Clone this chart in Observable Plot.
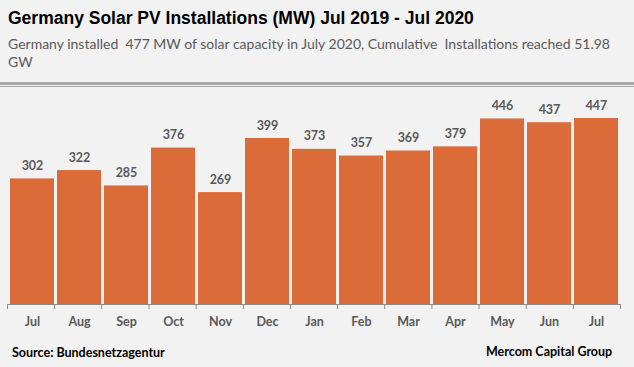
<!DOCTYPE html>
<html>
<head>
<meta charset="utf-8">
<script src="https://cdn.jsdelivr.net/npm/d3@7"></script>
<script src="https://cdn.jsdelivr.net/npm/@observablehq/plot@0.6"></script>
<style>
  body { margin: 0; background: #f2f2f2; width: 634px; height: 367px; position: relative; overflow: hidden; }
  #title { position: absolute; left: 8px; top: 8px; font: bold 17.5px "Liberation Sans", Arial, sans-serif; color: #000; white-space: nowrap; }
  #subtitle { position: absolute; left: 8px; top: 35px; font: 14px Lato, "Open Sans", sans-serif; color: #595959; line-height: 18px; white-space: nowrap; }
  #rule1 { position: absolute; left: 0; top: 82px; width: 634px; height: 3px; background: #a6a6a6; }
  #rule2 { position: absolute; left: 0; top: 86px; width: 634px; height: 1px; background: #a6a6a6; }
  #chart { position: absolute; left: 0; top: 87px; width: 634px; }
  #source { position: absolute; left: 12px; top: 345px; font: bold 12.5px Lato, "Open Sans", sans-serif; color: #000; }
  #credit { position: absolute; left: 486px; top: 344px; font: bold 12.5px Lato, "Open Sans", sans-serif; color: #000; }
</style>
</head>
<body>
<div id="title">Germany Solar PV Installations (MW) Jul 2019 - Jul 2020</div>
<div id="subtitle">Germany installed&nbsp; 477 MW of solar capacity in July 2020, Cumulative&nbsp; Installations reached 51.98<br>GW</div>
<div id="rule1"></div>
<div id="rule2"></div>
<div id="chart"></div>
<div id="source">Source: Bundesnetzagentur</div>
<div id="credit">Mercom Capital Group</div>
<script>
const months = ["Jul","Aug","Sep","Oct","Nov","Dec","Jan","Feb","Mar","Apr","May","Jun","Jul "];
const installedMW = [302, 322, 285, 376, 269, 399, 373, 357, 369, 379, 446, 437, 447];

const data = months.map((m, i) => ({month: m, value: installedMW[i]}));

const chart = Plot.plot({
  width: 634,
  height: 280,
  marginTop: 9,
  marginBottom: 63,
  marginLeft: 7,
  marginRight: 14,
  style: {background: "transparent", fontFamily: "Lato, 'Open Sans', sans-serif"},
  x: {domain: months, paddingInner: 0.065, paddingOuter: 0.03, axis: null},
  y: {domain: [0, 500], axis: null},
  marks: [
    Plot.barY(data, {x: "month", y: "value", fill: "#dc6b3a"}),
    Plot.text(data, {x: "month", y: "value", text: d => String(d.value), dy: -13, fill: "#595959", fontWeight: "bold", fontSize: 12.5}),
    Plot.ruleY([0], {stroke: "#8c8c8c", strokeWidth: 1}),
    Plot.axisX({tickSize: 0, tickPadding: 13, fontWeight: "bold", fontSize: 12.5, fill: "#595959", label: null, tickFormat: d => d.trim()})
  ]
});

// category boundary tick marks below the baseline, positioned from the chart's scales
const xs = chart.scale("x");
const ys = chart.scale("y");
const base = ys.apply(0);
const g = d3.select(chart).append("g").attr("stroke", "#8c8c8c");
const r0 = xs.range[0], r1 = xs.range[1];
for (let i = 0; i <= months.length; i++) {
  const bx = r0 + i * (r1 - r0) / months.length;
  g.append("line").attr("x1", bx + 0.5).attr("x2", bx + 0.5).attr("y1", base).attr("y2", base + 5);
}
document.getElementById("chart").appendChild(chart);
</script>
</body>
</html>
